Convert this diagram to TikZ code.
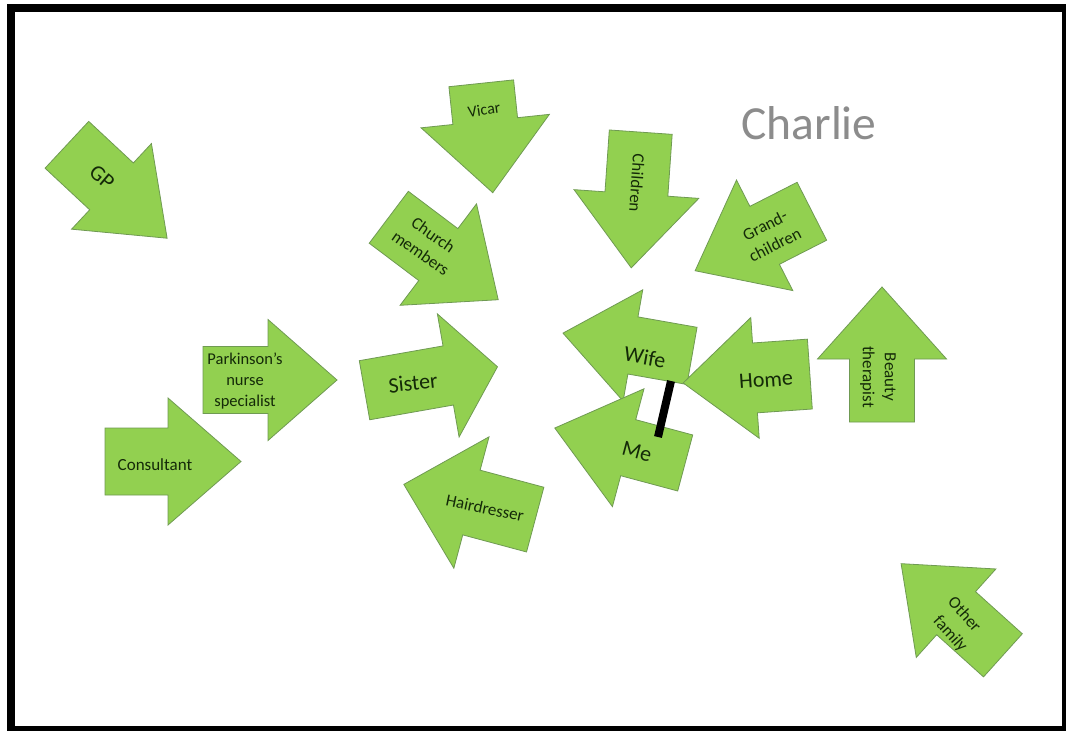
\documentclass[tikz,border=0pt]{standalone}
\usepackage{fontspec}
\setmainfont{Carlito}
\definecolor{arrowgreen}{HTML}{92D050}
\definecolor{arrowline}{HTML}{6F9A52}
\definecolor{labelink}{HTML}{142A08}
\definecolor{charliegrey}{HTML}{8C8C8C}
\tikzset{
  arrowbody/.style={fill=arrowgreen, draw=arrowline, line width=0.8pt, line join=miter},
  lbl/.style={text=labelink, align=center, inner sep=0pt, font=\fontsize{17}{22}\selectfont},
  biglbl/.style={text=labelink, align=center, inner sep=0pt, font=\fontsize{22}{24}\selectfont},
  barline/.style={line width=8pt, draw=black}
}
% #1 name, #2 x, #3 y, #4 direction (deg, clockwise on screen), #5 length, #6 shaft width, #7 head width, #8 head length
\newcommand{\bkarrow}[8]{%
  \begin{scope}[shift={(#2,#3)},rotate={-(#4)}]
    \draw[arrowbody] ({-#5/2},{-#6/2}) -- ({#5/2-#8},{-#6/2}) -- ({#5/2-#8},{-#7/2}) -- ({#5/2},0)
      -- ({#5/2-#8},{#7/2}) -- ({#5/2-#8},{#6/2}) -- ({-#5/2},{#6/2}) -- cycle;
    \coordinate (#1) at (0,0);
  \end{scope}}
\begin{document}
\begin{tikzpicture}[x=1pt,y=-1pt]
\useasboundingbox (0,0) rectangle (1066,731);
\fill[white] (0,0) rectangle (1066,731);
\fill[black] (7,4) rectangle (1066,731);
\fill[white] (15,12) rectangle (1062,726);

\node[text=charliegrey, inner sep=0pt, font=\fontsize{47.5}{50}\selectfont] (charlie) at (809,123) {Charlie};

\bkarrow{gp}{117}{191.5}{43}{137}{64}{117}{76}
\bkarrow{vicar}{487}{138}{84}{110}{65}{129}{72}
\bkarrow{church}{443.5}{258.5}{37}{137}{65}{127}{75}
\bkarrow{children}{636}{200}{94}{136}{63}{125}{74}
\bkarrow{grand}{753.5}{241}{153}{131}{65}{124}{78}
\bkarrow{beauty}{882}{354.5}{-90}{135}{65}{129}{72}
\bkarrow{park}{270}{380}{0}{134}{67}{121}{69}
\bkarrow{cons}{173}{461.5}{0}{136}{67}{127}{73}
\bkarrow{sister}{431}{378.5}{-10}{135}{60}{125}{50}
\bkarrow{hair}{469.5}{502}{195}{136}{67}{136}{70}
\bkarrow{wife}{627.5}{344.5}{190}{131}{58}{113}{71}
\bkarrow{me}{620}{445.5}{195}{135}{58}{122}{76}
\bkarrow{home}{746.5}{378.5}{176}{127}{70}{121}{72}
\bkarrow{other}{952}{609.5}{222}{137}{58}{119}{74}

\node[biglbl, rotate=-40] (gp-t) at (102,177) {GP};
\node[lbl, rotate=8, font=\fontsize{16}{19}\selectfont] (vicar-t) at (484,110) {Vicar};
\node[lbl, rotate=-35] (church-t) at (427,244) {Church\\members};
\node[lbl, rotate=-94] (children-t) at (637,183) {Children};
\node[lbl, rotate=27] (grand-t) at (770,235) {Grand-\\children};
\node[biglbl, rotate=-10] (wife-t) at (645,357) {Wife};
\node[biglbl, rotate=-15] (me-t) at (637,452) {Me};
\node[biglbl, rotate=4] (home-t) at (766,380) {Home};
\node[lbl, rotate=-90] (beauty-t) at (878,377) {Beauty\\therapist};
\node[lbl, rotate=-48] (other-t1) at (965,614) {Other};
\node[lbl, rotate=-48] (other-t2) at (950,634) {family};
\node[lbl, font=\fontsize{16.5}{21}\selectfont] (park-t) at (245,381) {Parkinson’s\\nurse\\specialist};
\node[lbl] (cons-t) at (155,465) {Consultant};
\node[biglbl, rotate=6] (sister-t) at (413,383) {Sister};
\node[lbl, rotate=-12] (hair-t) at (485,508) {Hairdresser};

\coordinate (barA) at (671,381);
\coordinate (barB) at (658,437);
\draw[barline] (barA) -- (barB);
\end{tikzpicture}
\end{document}
